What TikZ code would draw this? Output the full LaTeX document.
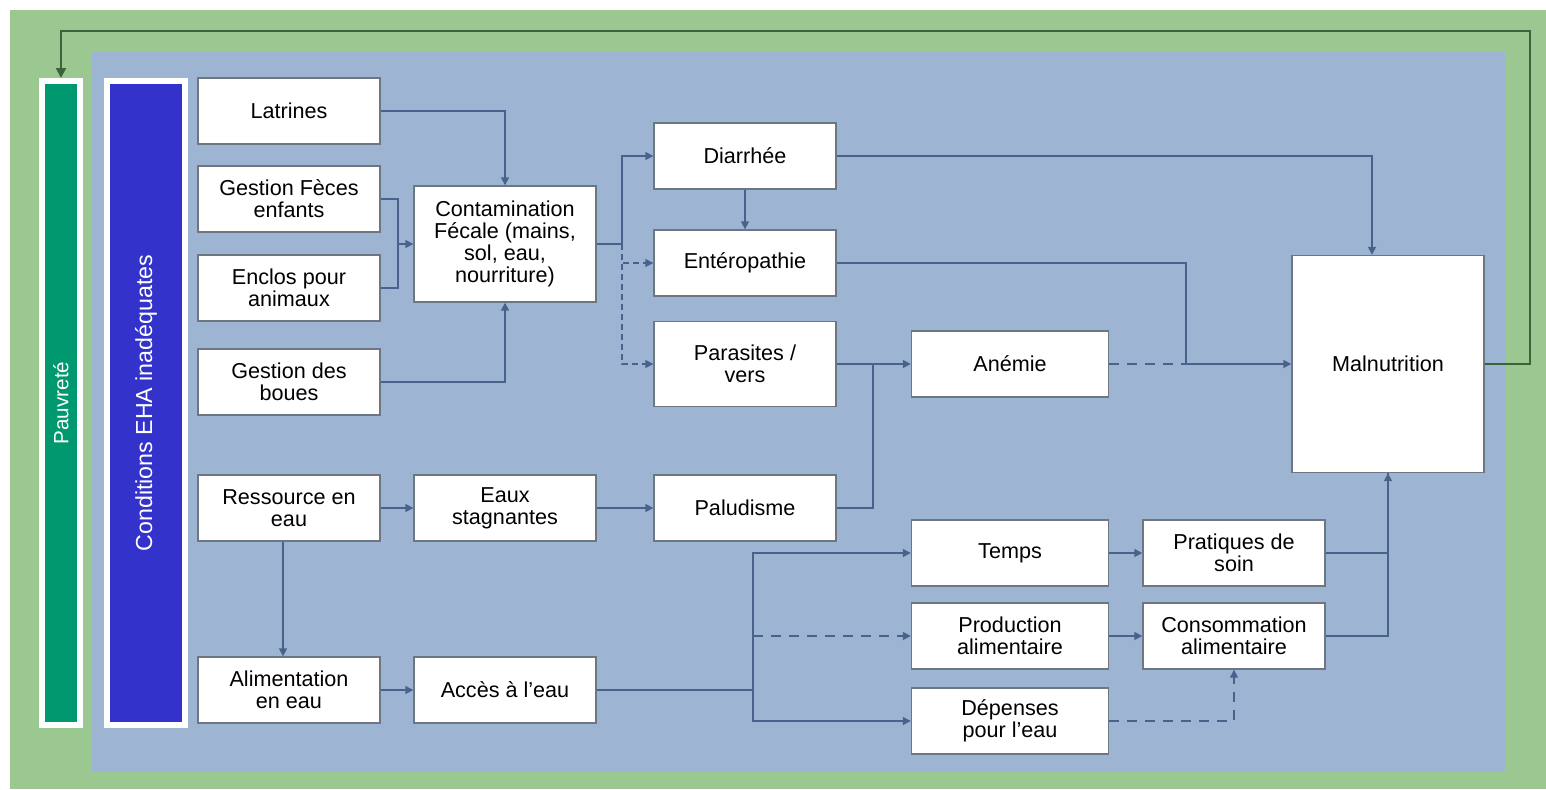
\documentclass[tikz,border=0pt]{standalone}
\usepackage{fontspec}
\setmainfont{Liberation Sans}
\usetikzlibrary{arrows.meta}
\definecolor{outergreen}{RGB}{155,199,145}
\definecolor{innerblue}{RGB}{157,181,211}
\definecolor{barGreen}{RGB}{0,152,110}
\definecolor{barBlue}{RGB}{51,51,204}
\definecolor{lineBlue}{RGB}{72,98,140}
\definecolor{boxGray}{RGB}{110,118,130}
\definecolor{fbGreen}{RGB}{60,100,60}

\begin{document}
\begin{tikzpicture}[x=0.5pt, y=-0.5pt,
  box/.style={draw=boxGray, line width=0.7pt, fill=white, inner sep=1pt, align=center,
    minimum width=91pt, minimum height=33pt, font=\fontsize{10.8}{11.1}\selectfont},
  bar/.style={draw=white, line width=3pt, rotate=90, minimum width=322pt, minimum height=19pt,
    text=white, font=\fontsize{10.3}{12}\selectfont},
  conn/.style={draw=lineBlue, line width=0.75pt},
  tip/.style={-{Triangle[length=4pt,width=4pt]}},
  fb/.style={draw=fbGreen, line width=1pt, -{Triangle[length=5pt,width=5pt]}}]
% Fix the page to the size of the reference
\useasboundingbox (0,0) rectangle (1546,789);
% Green outer background and blue inner panel
\fill[outergreen] (10,10) rectangle (1546,789);
\fill[innerblue] (92,52) rectangle (1505,772);
% The two vertical bars on the left
\node[bar, fill=barGreen] (pauv) at (61,403) {Pauvreté};
\node[bar, fill=barBlue, minimum height=39pt, font=\fontsize{11.6}{13}\selectfont] (cond) at (146,403) {Conditions EHA inadéquates};
% First column
\node[box] (lat) at (289,111) {Latrines};
\node[box] (feces) at (289,199) {Gestion Fèces\\enfants};
\node[box] (enclos) at (289,288) {Enclos pour\\animaux};
\node[box] (boues) at (289,382) {Gestion des\\boues};
\node[box] (ress) at (289,508) {Ressource en\\eau};
\node[box] (alim) at (289,690) {Alimentation\\en eau};
% Second column
\node[box, minimum height=58pt] (contam) at (505,244) {Contamination\\Fécale (mains,\\sol, eau,\\nourriture)};
\node[box] (eaux) at (505,508) {Eaux\\stagnantes};
\node[box] (acces) at (505,690) {Accès à l’eau};
% Third column
\node[box] (diar) at (745,156) {Diarrhée};
\node[box] (entero) at (745,263) {Entéropathie};
\node[box, minimum height=42.5pt] (paras) at (745,364) {Parasites /\\vers};
\node[box] (palu) at (745,508) {Paludisme};
% Fourth column
\node[box, minimum width=98.5pt] (anem) at (1010,364) {Anémie};
\node[box, minimum width=98.5pt] (temps) at (1010,553) {Temps};
\node[box, minimum width=98.5pt] (prod) at (1010,636) {Production\\alimentaire};
\node[box, minimum width=98.5pt] (dep) at (1010,721) {Dépenses\\pour l’eau};
% Fifth column
\node[box] (prat) at (1234,553) {Pratiques de\\soin};
\node[box] (conso) at (1234,636) {Consommation\\alimentaire};
% Outcome box
\node[box, minimum width=96pt, minimum height=108.5pt] (maln) at (1388,364) {Malnutrition};
% Junction points
\coordinate (jL) at (398,244);
\coordinate (jC) at (622,244);
\coordinate (jP) at (873,364);
\coordinate (jA) at (1186,364);
\coordinate (jW) at (753,690);
\coordinate (fbR) at (1530,31);
\coordinate (fbL) at (61,31);
% Sanitation inputs to faecal contamination
\draw[conn, tip] (lat.east) -| (contam.north);
\draw[conn] (feces.east) -| (jL);
\draw[conn] (enclos.east) -| (jL);
\draw[conn, tip] (jL) -- (contam.west);
\draw[conn, tip] (boues.east) -| (contam.south);
% Faecal contamination to diseases
\draw[conn] (contam.east) -- (jC);
\draw[conn, tip] (jC) |- (diar.west);
\draw[conn, densely dashed, tip] (jC) |- (entero.west);
\draw[conn, densely dashed, tip] (jC) |- (paras.west);
\draw[conn, tip] (diar.south) -- (entero.north);
% Water resource branch
\draw[conn, tip] (ress.east) -- (eaux.west);
\draw[conn, tip] ([xshift=-3pt]ress.south) -- ([xshift=-3pt]alim.north);
\draw[conn, tip] (eaux.east) -- (palu.west);
\draw[conn, tip] (alim.east) -- (acces.west);
% Parasites and malaria to anaemia
\draw[conn, tip] (paras.east) -- (anem.west);
\draw[conn] (palu.east) -| (jP);
% Diseases to malnutrition
\draw[conn, tip] (diar.east) -| ([xshift=-8pt]maln.north);
\draw[conn] (entero.east) -| (jA);
\draw[conn, dashed, dash pattern=on 5pt off 4pt] (anem.east) -- (jA);
\draw[conn, tip] (jA) -- (maln.west);
% Access to water branches
\draw[conn] (acces.east) -- (jW);
\draw[conn, tip] (jW) |- (temps.west);
\draw[conn, tip] (jW) |- (dep.west);
\draw[conn, dashed, dash pattern=on 5pt off 4pt, tip] (jW |- prod.west) -- (prod.west);
\draw[conn, tip] (temps.east) -- (prat.west);
\draw[conn, tip] (prod.east) -- (conso.west);
\draw[conn, dashed, dash pattern=on 5pt off 4pt, tip] (dep.east) -| (conso.south);
% Care and food intake to malnutrition
\draw[conn] (conso.east) -| (maln.south);
\draw[conn, tip] (prat.east) -| (maln.south);
% Feedback loop from malnutrition back to poverty
\draw[fb] (maln.east) -| (fbR) -- (fbL) -- (pauv.east);
\end{tikzpicture}
\end{document}
